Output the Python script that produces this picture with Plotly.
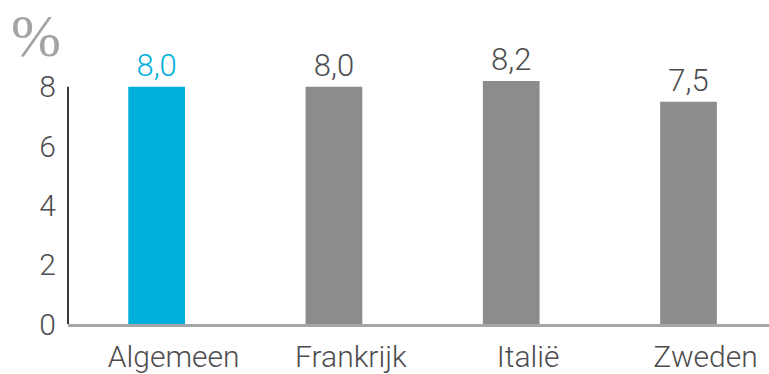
import plotly.graph_objects as go

# Categories and values (percent)
categories = ["Algemeen", "Frankrijk", "Italië", "Zweden"]
values = [8.0, 8.0, 8.2, 7.5]
y_ticks = [0, 2, 4, 6, 8]

BLUE = "#00b0da"
GREY_BAR = "#8c8c8f"
TEXT = "#4d4d4f"
FONT = "Roboto"

bar_colors = [BLUE] + [GREY_BAR] * (len(categories) - 1)
label_colors = [BLUE] + [TEXT] * (len(categories) - 1)
labels = [f"{v:.1f}".replace(".", ",") for v in values]

fig = go.Figure(
    go.Bar(
        x=list(range(len(categories))),
        y=values,
        marker=dict(color=bar_colors, line=dict(width=0)),
        width=0.32,
        text=labels,
        textposition="outside",
        textfont=dict(family=FONT, size=31, color=label_colors, weight=300),
        cliponaxis=False,
        hoverinfo="skip",
    )
)

fig.update_layout(
    width=769,
    height=374,
    margin=dict(l=68, r=0, t=72, b=48),
    paper_bgcolor="white",
    plot_bgcolor="white",
    showlegend=False,
    font=dict(family=FONT, color=TEXT, weight=300),
    xaxis=dict(
        range=[-0.5, 3.454],
        tickmode="array",
        tickvals=list(range(len(categories))),
        ticktext=categories,
        tickfont=dict(family=FONT, size=30, color=TEXT, weight=300),
        ticklabelshift=17,
        ticklabelstandoff=4,
        showgrid=False,
        zeroline=False,
        showline=True,
        linecolor="#a7a7aa",
        linewidth=2.5,
        ticks="",
    ),
    yaxis=dict(
        range=[0, 8.5],
        tickmode="array",
        tickvals=y_ticks,
        ticktext=[str(t) for t in y_ticks],
        tickfont=dict(family=FONT, size=30, color=TEXT, weight=300),
        ticklabelstandoff=11,
        showgrid=False,
        zeroline=False,
        showline=False,
        ticks="",
    ),
    shapes=[
        # vertical value axis, running from 0 to 8
        dict(
            type="line", xref="paper", yref="y",
            x0=0, x1=0, y0=0, y1=8,
            line=dict(color="#3a3a3a", width=2),
        )
    ],
    annotations=[
        # unit marker above the value axis
        dict(
            text="%", xref="paper", yref="paper",
            x=-0.084, y=1.283, xanchor="left", yanchor="top",
            showarrow=False,
            font=dict(family="Liberation Serif", size=60, color="#a3a3a5"),
        )
    ],
)

fig.write_html("out.html")
